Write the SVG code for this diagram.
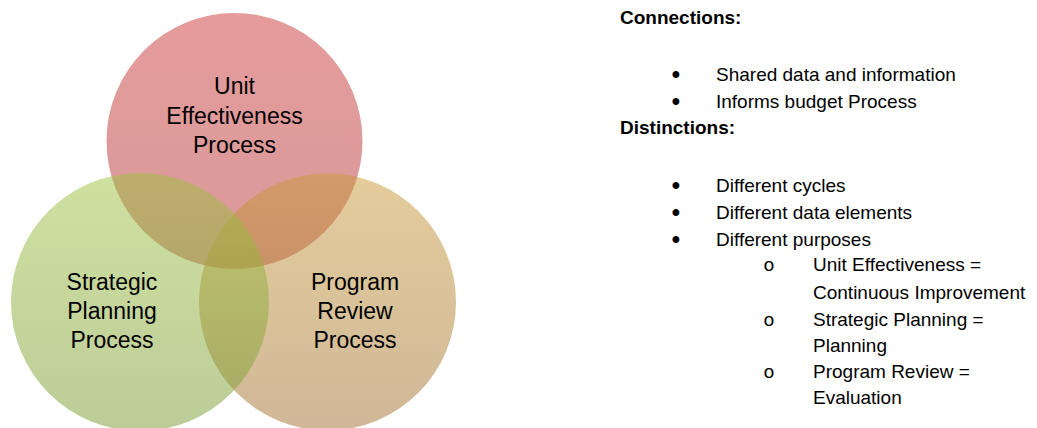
<svg xmlns="http://www.w3.org/2000/svg" width="1037" height="428" viewBox="0 0 1037 428">
<style>
.lbl{font-family:"Liberation Sans",Arial,sans-serif;font-size:23px;fill:#000;text-anchor:middle}
.t{font-family:"Liberation Sans",Arial,sans-serif;font-size:19px;fill:#000}
.b{font-weight:bold}
.blt{font-family:"Liberation Sans",Arial,sans-serif;font-size:25px;fill:#000;text-anchor:middle}
.sub{font-family:"Liberation Mono","Courier New",monospace;font-size:19px;fill:#000;text-anchor:middle}
</style>
<defs>
<linearGradient id="gR" x1="0" y1="0" x2="0" y2="1">
<stop offset="0" stop-color="#CC3838"/><stop offset="1" stop-color="#B23535"/>
</linearGradient>
<linearGradient id="gT" x1="0" y1="0" x2="0" y2="1">
<stop offset="0" stop-color="#C99A3A"/><stop offset="1" stop-color="#A07030"/>
</linearGradient>
<linearGradient id="gG" x1="0" y1="0" x2="0" y2="1">
<stop offset="0" stop-color="#9FC242"/><stop offset="1" stop-color="#7A9A32"/>
</linearGradient>
</defs>
<rect width="1037" height="428" fill="#fff"/>
<g id="unit-effectiveness">
<circle cx="234.5" cy="141" r="128" fill="url(#gR)" fill-opacity="0.5"/>
</g>
<g id="program-review">
<circle cx="327.5" cy="302" r="128.5" fill="url(#gT)" fill-opacity="0.5"/>
</g>
<g id="strategic-planning">
<circle cx="140" cy="302" r="129" fill="url(#gG)" fill-opacity="0.5"/>
</g>
<g id="labels">
<text class="lbl" x="234.5" y="94">Unit</text>
<text class="lbl" x="234.5" y="124">Effectiveness</text>
<text class="lbl" x="234.5" y="153">Process</text>
<text class="lbl" x="112" y="290">Strategic</text>
<text class="lbl" x="112" y="319">Planning</text>
<text class="lbl" x="112" y="348">Process</text>
<text class="lbl" x="355" y="290">Program</text>
<text class="lbl" x="355" y="319">Review</text>
<text class="lbl" x="355" y="348">Process</text>
</g>
<g id="notes">
<text class="t b" x="620" y="24">Connections:</text>
<text class="blt" x="676" y="83">•</text><text class="t" x="716" y="81">Shared data and information</text>
<text class="blt" x="676" y="110">•</text><text class="t" x="716" y="108">Informs budget Process</text>
<text class="t b" x="620" y="134">Distinctions:</text>
<text class="blt" x="676" y="194">•</text><text class="t" x="716" y="192">Different cycles</text>
<text class="blt" x="676" y="221">•</text><text class="t" x="716" y="219">Different data elements</text>
<text class="blt" x="676" y="248">•</text><text class="t" x="716" y="246">Different purposes</text>
<text class="sub" x="769" y="271">o</text><text class="t" x="813" y="271">Unit Effectiveness =</text>
<text class="t" x="813" y="299">Continuous Improvement</text>
<text class="sub" x="769" y="326">o</text><text class="t" x="813" y="326">Strategic Planning =</text>
<text class="t" x="813" y="352">Planning</text>
<text class="sub" x="769" y="378">o</text><text class="t" x="813" y="378">Program Review =</text>
<text class="t" x="813" y="404">Evaluation</text>
</g>
</svg>
